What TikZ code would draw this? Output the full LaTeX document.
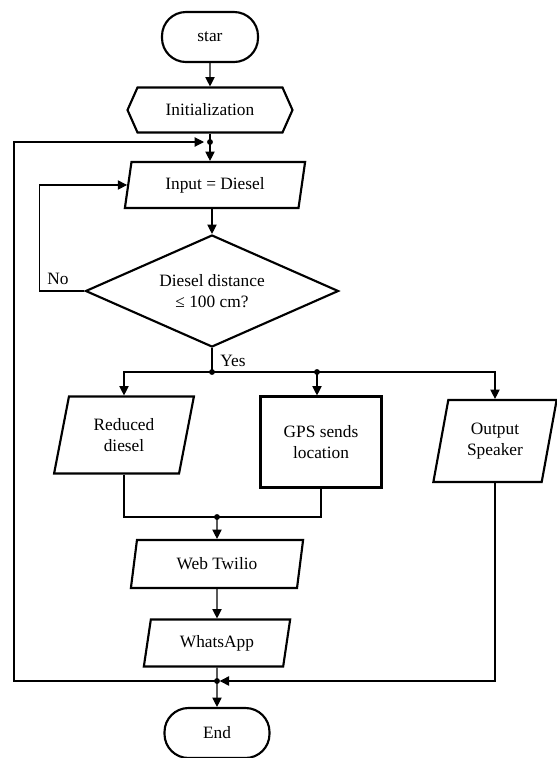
\documentclass[tikz,border=0pt]{standalone}
\usepackage{fontspec}
\setmainfont{Liberation Serif}
\usetikzlibrary{shapes.geometric,shapes.symbols,arrows.meta}

\begin{document}
\begin{tikzpicture}[x=0.75pt,y=-0.75pt,
  font=\fontsize{13}{15.5}\selectfont,
  box/.style={draw,line width=1.6pt,inner sep=0pt,align=center},
  terminal/.style={box,rounded corners=18pt,minimum height=37.5pt},
  hexbox/.style={box,signal,signal to=east and west,signal pointer angle=132,minimum height=33.75pt},
  iobox/.style={box,trapezium,trapezium stretches=true,trapezium left angle=76,trapezium right angle=104},
  procbox/.style={box,rectangle},
  decision/.style={box,diamond,aspect=2.2},
  arr/.style={-{Triangle[length=7pt,width=7pt]},line width=0.8pt},
  link/.style={line width=0.8pt}]
\useasboundingbox (0,0) rectangle (557,758);
\node[terminal,minimum width=72pt] (start) at (210,37) {star};
\node[hexbox,minimum width=123.75pt] (init) at (210,110) {Initialization};
\node[iobox,minimum width=135.75pt,minimum height=34.5pt] (inp) at (215,185) {Input = Diesel};
\node[decision,minimum width=189.75pt,minimum height=84pt] (dia) at (212,291) {Diesel distance\\≤ 100 cm?};
\node[iobox,minimum width=105pt,minimum height=57.75pt] (red) at (124,435) {Reduced\\diesel};
\node[procbox,minimum width=90.75pt,minimum height=68.25pt] (gps) at (321,442) {GPS sends\\location};
\node[iobox,minimum width=93pt,minimum height=61.5pt] (out) at (495,441) {Output\\Speaker};
\node[iobox,minimum width=129.75pt,minimum height=36pt] (web) at (217,564) {Web Twilio};
\node[iobox,minimum width=110.25pt,minimum height=35.25pt] (wa) at (217,643) {WhatsApp};
\node[terminal,minimum width=78.75pt] (end) at (217,733) {End};
\node (no) at (58,279) {No};
\node (yes) at (233,361) {Yes};
\coordinate (j1) at (210,142);
\coordinate (j3) at (212,372);
\coordinate (j4) at (317,372);
\coordinate (j5) at (217,517);
\coordinate (j2) at (217,681);
\coordinate (loopl) at (14,681);
% main line
\draw[arr] (start) -- (init);
\draw[arr] (init.south) -- (init.south |- inp.north);
\draw[arr] (dia.north |- inp.south) -- (dia.north);
\draw[arr] (dia.west) -- ++(-45,0) |- (inp.west);
\draw[link] (dia.south) -- (j3) -- (j4);
\draw[arr] (j3) -| (red);
\draw[arr] (j4) -- (j4 |- gps.north);
\draw[arr] (j4) -| (out);
\draw[link] (red) |- (j5) -| (gps);
\draw[arr] (j5) -- (web);
\draw[arr] (web) -- (wa);
\draw[arr] (wa) -- (end);
% loop back
\draw[arr,shorten >=2pt] (out) |- (j2);
\draw[arr,shorten >=4.5pt] (j2) -- (loopl) |- (j1);
\foreach \j in {j1,j2,j3,j4,j5}
  \fill (\j) circle (2.2pt);
\end{tikzpicture}
\end{document}
